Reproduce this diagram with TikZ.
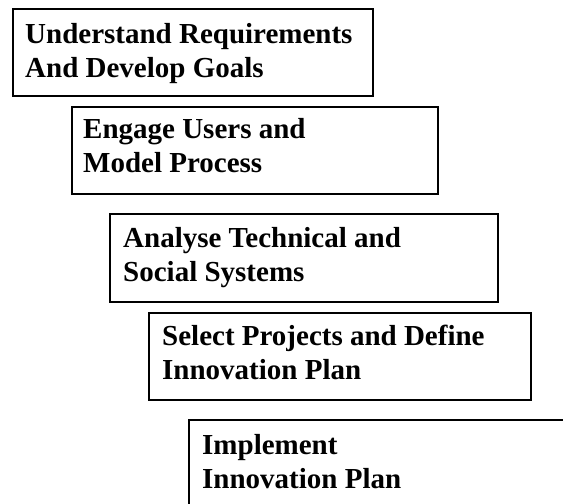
\documentclass[tikz,border=0pt]{standalone}
\usepackage{fontspec}
\setmainfont{Liberation Serif}
\begin{document}
\begin{tikzpicture}[x=1pt,y=-1pt,
  stepbox/.style={draw=black,line width=1.5pt,rectangle,inner sep=0pt,anchor=north west},
  lbl/.style={font=\bfseries\fontsize{29}{34}\selectfont,align=left,inner sep=0pt,anchor=base west}]
\clip (0,0) rectangle (563,504);
\fill[white] (0,0) rectangle (563,504);
\node[stepbox,minimum width=360pt,minimum height=87pt] (b1) at (12,8) {};
\node[lbl] (t1) at (25,77) {Understand Requirements\\And Develop Goals};
\node[stepbox,minimum width=366pt,minimum height=87pt] (b2) at (71,106) {};
\node[lbl] (t2) at (83,172) {Engage Users and\\Model Process};
\node[stepbox,minimum width=388pt,minimum height=88pt] (b3) at (109,213) {};
\node[lbl] (t3) at (123,281) {Analyse Technical and\\Social Systems};
\node[stepbox,minimum width=382pt,minimum height=87pt] (b4) at (148,312) {};
\node[lbl] (t4) at (162,379) {Select Projects and Define\\Innovation Plan};
\node[stepbox,minimum width=420pt,minimum height=120pt] (b5) at (188,419) {};
\node[lbl] (t5) at (202,488) {Implement\\Innovation Plan};
\end{tikzpicture}
\end{document}
